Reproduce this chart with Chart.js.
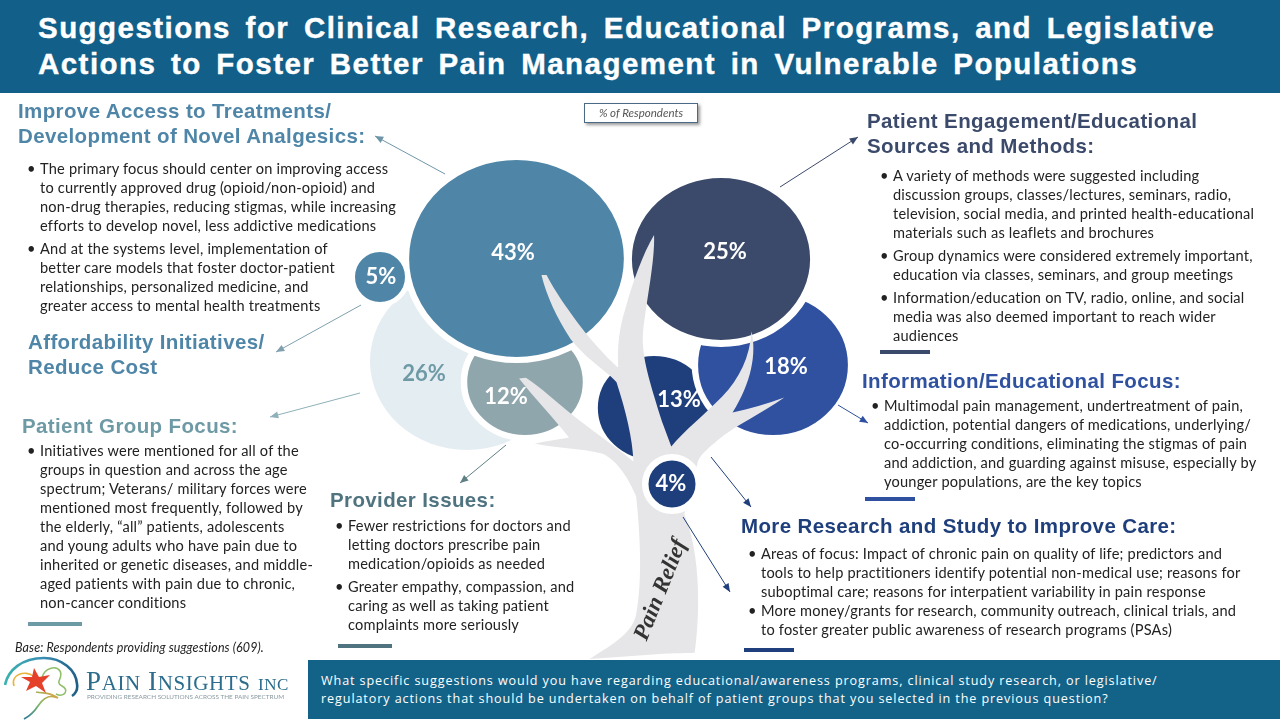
<!DOCTYPE html>
<html>
<head>
<meta charset="utf-8">
<title>Pain Management Suggestions</title>
<script src="https://cdn.jsdelivr.net/npm/chart.js@4"></script>
<style>
  html, body { margin: 0; padding: 0; background: #fff; }
  #page { position: relative; width: 1280px; height: 720px; overflow: hidden; font-family: Lato, sans-serif; color: #222; }
  #page > canvas { position: absolute; left: 0; top: 0; }
  #arrows { position: absolute; left: 0; top: 0; pointer-events: none; }
  .title { position: absolute; left: 0; top: 0; width: 1280px; height: 93px; background: #125f8a; }
  .title div { position: absolute; left: 38px; color: #fff; font: bold 29.5px "Liberation Sans", sans-serif; white-space: nowrap; letter-spacing: 1.45px; word-spacing: 5px; -webkit-text-stroke: 0.4px #fff; }
  .head { position: absolute; font: bold 20.5px/25px "Liberation Sans", sans-serif; white-space: nowrap; letter-spacing: 0.38px; }
  .body { position: absolute; font-size: 14.6px; line-height: 19px; white-space: nowrap; letter-spacing: 0.2px; }
  .body p { margin: 0 0 4px 0; position: relative; }
  .body p::before { content: "\2022"; position: absolute; left: -13px; }
  .bar { position: absolute; height: 4px; }
  .note { position: absolute; left: 15px; top: 640px; font-size: 12.5px; letter-spacing: 0.1px; font-style: italic; }
  .tag { position: absolute; left: 584px; top: 103px; width: 112px; height: 18px; border: 1px solid #4a6a85; box-shadow: 2px 2px 3px #999; background: #fff; text-align: center; font-size: 11.5px; line-height: 18px; font-style: italic; color: #555; }
  .ask { position: absolute; left: 308px; top: 660px; width: 972px; height: 59px; background: #136389; }
  .ask div { position: absolute; left: 13px; top: 12px; color: #fff; font-family: "Open Sans", sans-serif; font-size: 12.6px; line-height: 18px; white-space: nowrap; letter-spacing: 0.9px; }
  .logo { position: absolute; left: 4px; top: 656px; width: 290px; height: 64px; }
</style>
</head>
<body>
<div id="page">
  <canvas id="tree" width="1280" height="720"></canvas>
  <svg id="arrows" width="1280" height="720"></svg>

  <div class="title">
    <div style="top:11px">Suggestions for Clinical Research, Educational Programs, and Legislative</div>
    <div style="top:47px">Actions to Foster Better Pain Management in Vulnerable Populations</div>
  </div>
  <div class="tag">% of Respondents</div>

  <div class="head" style="left:18px;top:98px;color:#4f86a8">Improve Access to Treatments/<br>Development of Novel Analgesics:</div>
  <div class="body" style="left:40px;top:159px">
    <p>The primary focus should center on improving access<br>to currently approved drug (opioid/non-opioid) and<br>non-drug therapies, reducing stigmas, while increasing<br>efforts to develop novel, less addictive medications</p>
    <p>And at the systems level, implementation of<br>better care models that foster doctor-patient<br>relationships, personalized medicine, and<br>greater access to mental health treatments</p>
  </div>

  <div class="head" style="left:28px;top:329px;color:#4f86a8">Affordability Initiatives/<br>Reduce Cost</div>

  <div class="head" style="left:22px;top:413px;color:#6e9aa6">Patient Group Focus:</div>
  <div class="body" style="left:40px;top:441px">
    <p>Initiatives were mentioned for all of the<br>groups in question and across the age<br>spectrum; Veterans/ military forces were<br>mentioned most frequently, followed by<br>the elderly, “all” patients, adolescents<br>and young adults who have pain due to<br>inherited or genetic diseases, and middle-<br>aged patients with pain due to chronic,<br>non-cancer conditions</p>
  </div>
  <div class="bar" style="left:28px;top:622px;width:54px;background:#6e9aa6"></div>

  <div class="head" style="left:330px;top:487px;color:#4f7480">Provider Issues:</div>
  <div class="body" style="left:348px;top:516px">
    <p>Fewer restrictions for doctors and<br>letting doctors prescribe pain<br>medication/opioids as needed</p>
    <p>Greater empathy, compassion, and<br>caring as well as taking patient<br>complaints more seriously</p>
  </div>
  <div class="bar" style="left:338px;top:644px;width:54px;background:#4f7480"></div>

  <div class="head" style="left:867px;top:108px;color:#3b4a6b">Patient Engagement/Educational<br>Sources and Methods:</div>
  <div class="body" style="left:893px;top:166px">
    <p>A variety of methods were suggested including<br>discussion groups, classes/lectures, seminars, radio,<br>television, social media, and printed health-educational<br>materials such as leaflets and brochures</p>
    <p>Group dynamics were considered extremely important,<br>education via classes, seminars, and group meetings</p>
    <p>Information/education on TV, radio, online, and social<br>media was also deemed important to reach wider<br>audiences</p>
  </div>
  <div class="bar" style="left:880px;top:350px;width:50px;background:#3b4a6b"></div>

  <div class="head" style="left:862px;top:368px;color:#2f51a0">Information/Educational Focus:</div>
  <div class="body" style="left:884px;top:396px">
    <p>Multimodal pain management, undertreatment of pain,<br>addiction, potential dangers of medications, underlying/<br>co-occurring conditions, eliminating the stigmas of pain<br>and addiction, and guarding against misuse, especially by<br>younger populations, are the key topics</p>
  </div>
  <div class="bar" style="left:865px;top:497px;width:50px;background:#2f51a0"></div>

  <div class="head" style="left:741px;top:513px;color:#1f3f7c">More Research and Study to Improve Care:</div>
  <div class="body" style="left:761px;top:544px">
    <p style="margin:0">Areas of focus: Impact of chronic pain on quality of life; predictors and<br>tools to help practitioners identify potential non-medical use; reasons for<br>suboptimal care; reasons for interpatient variability in pain response</p>
    <p>More money/grants for research, community outreach, clinical trials, and<br>to foster greater public awareness of research programs (PSAs)</p>
  </div>
  <div class="bar" style="left:744px;top:648px;width:50px;background:#1f3f7c"></div>

  <div class="note">Base: Respondents providing suggestions (609).</div>

  <svg class="logo" viewBox="0 0 290 64">
    <defs>
      <linearGradient id="brainArc" x1="0" x2="1" y1="0" y2="0">
        <stop offset="0" stop-color="#3ab3ae"/><stop offset="0.5" stop-color="#3a8fb5"/><stop offset="1" stop-color="#1f5f85"/>
      </linearGradient>
      <linearGradient id="brainStem" x1="1" x2="0" y1="0" y2="1">
        <stop offset="0" stop-color="#e8a03c"/><stop offset="0.5" stop-color="#7fb86a"/><stop offset="1" stop-color="#2d7a9c"/>
      </linearGradient>
    </defs>
    <path d="M1 29 C4 14 18 2 40 2 C58 2 72 14 73 28 C74 34 71 38 68 40" fill="none" stroke="url(#brainArc)" stroke-width="2.6"/>
    <path d="M10 30 C6 18 22 14 29 20" fill="none" stroke="#e8b23c" stroke-width="1.6"/>
    <path d="M38 22 C40 12 52 9 56 15 C60 22 50 26 58 30 C66 34 60 42 52 38" fill="none" stroke="#8fbf6a" stroke-width="1.6"/>
    <path d="M32 36 C40 38 44 35 54 42 C44 37 38 44 34 50 C30 56 26 60 20 63" fill="none" stroke="url(#brainStem)" stroke-width="1.8"/>
    <path d="M30 12 L35 21 L46 19 L38 27 L42 37 L32 30 L22 35 L26 26 L17 21 L28 21 Z" fill="#e5402a"/>
    <text x="82" y="34" font-family="'Liberation Serif', serif" font-size="27" fill="#2c6c8c" letter-spacing="0.6">P<tspan font-size="21">AIN</tspan> I<tspan font-size="21">NSIGHTS</tspan> <tspan font-size="17">INC</tspan></text>
    <text x="83" y="43" font-family="Lato, sans-serif" font-size="6.4" fill="#8a9aa0">PROVIDING RESEARCH SOLUTIONS ACROSS THE PAIN SPECTRUM</text>
  </svg>

  <div class="ask"><div>What specific suggestions would you have regarding educational/awareness programs, clinical study research, or legislative/<br>regulatory actions that should be undertaken on behalf of patient groups that you selected in the previous question?</div></div>
</div>

<script>
// --- Data ---
const categories = [
  'Patient Group Focus',
  'Provider Issues',
  'Improve Access to Treatments/Development of Novel Analgesics',
  'Affordability Initiatives/Reduce Cost',
  'Information/Educational Focus',
  'Information/Educational Focus',
  'Patient Engagement/Educational Sources and Methods',
  'More Research and Study to Improve Care'
];
const shares = [26, 12, 43, 5, 13, 18, 25, 4];

// --- Where the bubbles sit on the tree ---
const bubbleX = [467, 525, 516.5, 380, 654, 773, 721, 672];
const bubbleY = [361, 382, 258.5, 277, 408, 365, 259, 484];
const bubbleR = [89, 56, 101.5, 27.5, 55, 73, 84.5, 26.75];
const bubbleStretch = [1.09, 1.09, 1.09, 1, 1.08, 1.07, 1.1, 1];
const bubbleRing = [0, 6, 6, 5, 6, 6, 7, 6.5];
const bubbleColors = ['#e4edf2', '#90a6ad', '#4f86a8', '#4f86a8', '#1f3f7c', '#2f51a0', '#3b4a6b', '#1f3f7c'];
const labelX = [424, 506, 513, 381, 679, 786, 725, 671];
const labelY = [374, 397, 253, 277, 400, 367, 252, 484];
const labelColors = ['#6e9aa6', '#fff', '#fff', '#fff', '#fff', '#fff', '#fff', '#fff'];

const treeOutline = new Path2D(
  'M725 1565 C800 1520 850 1490 860 1440 C880 1340 870 1200 860 1110 C830 1040 790 1000 760 990 ' +
  'C700 975 620 975 565 962 C600 955 640 950 665 945 C620 890 560 830 520 780 L540 778 ' +
  'C590 810 620 840 660 870 C730 925 800 970 852 1012 C850 950 830 870 803 790 ' +
  'C770 755 720 730 670 670 C630 610 600 550 585 490 L600 490 C620 530 670 600 720 660 ' +
  'C750 695 785 730 808 750 C805 690 810 640 830 580 C850 510 880 430 912 378 ' +
  'C915 450 890 560 880 650 C875 720 900 790 935 900 L962 970 ' +
  'C1000 925 1060 880 1110 830 C1160 780 1190 720 1195 648 C1210 710 1195 790 1140 875 ' +
  'C1190 865 1240 850 1290 833 C1230 875 1150 910 1100 950 C1070 975 1050 990 1040 1010 ' +
  'L1000 1160 C1030 1230 1040 1320 1040 1400 C1040 1460 1035 1510 1030 1548 C1000 1550 980 1548 950 1550 Z'
);

const drawTree = {
  id: 'drawTree',
  // each bubble is squeezed a little like the original artwork
  beforeDatasetDraw(chart, args) {
    const ctx = chart.ctx;
    const p = args.meta.data[0];
    if (args.index === shares.length - 1) {
      ctx.save();
      ctx.translate(340, 100);
      ctx.scale(1 / 2.904, 1 / 2.8);
      ctx.fillStyle = '#e6e6e8';
      ctx.fill(treeOutline);
      ctx.restore();
    }
    ctx.save();
    ctx.translate(p.x, p.y);
    ctx.scale(bubbleStretch[args.index], 1);
    ctx.translate(-p.x, -p.y);
  },
  afterDatasetDraw(chart) {
    chart.ctx.restore();
  },
  afterDatasetsDraw(chart) {
    const ctx = chart.ctx;
    ctx.save();
    ctx.textAlign = 'center';
    ctx.textBaseline = 'middle';
    ctx.font = 'bold 22px Lato';
    shares.forEach((s, i) => {
      ctx.fillStyle = labelColors[i];
      ctx.fillText(s + '%', chart.scales.x.getPixelForValue(labelX[i]), chart.scales.y.getPixelForValue(labelY[i]));
    });
    ctx.translate(chart.scales.x.getPixelForValue(661), chart.scales.y.getPixelForValue(590));
    ctx.rotate(-68 * Math.PI / 180);
    ctx.font = 'italic bold 23px "Liberation Serif"';
    ctx.fillStyle = '#333';
    ctx.fillText('Pain Relief', 0, 0);
    ctx.restore();
  }
};

new Chart(document.getElementById('tree').getContext('2d'), {
  type: 'bubble',
  data: {
    datasets: shares.map((s, i) => ({
      label: categories[i],
      data: [{ x: bubbleX[i], y: bubbleY[i], r: bubbleR[i] }],
      backgroundColor: bubbleColors[i],
      borderColor: '#fff',
      borderWidth: bubbleRing[i],
      hoverBorderWidth: bubbleRing[i],
      clip: false,
      order: shares.length - i
    }))
  },
  options: {
    responsive: false,
    animation: false,
    events: [],
    layout: { padding: 0, autoPadding: false },
    plugins: { legend: { display: false }, title: { display: false }, tooltip: { enabled: false } },
    scales: {
      x: { display: false, min: 0, max: 1280 },
      y: { display: false, min: 0, max: 720, reverse: true }
    }
  },
  plugins: [drawTree]
});

// --- Arrows ---
const arrowLines = [
  [445, 174, 375, 136, '#6f95a8'],
  [780, 187, 858, 137, '#3b4a6b'],
  [361, 305, 276, 352, '#7fa0ae'],
  [360, 393, 270, 417, '#8fb0ba'],
  [506, 445, 460, 483, '#5f7f85'],
  [711, 457, 751, 507, '#1f3f7c'],
  [683, 517, 730, 592, '#1f3f7c'],
  [838, 405, 868, 423, '#2f51a0']
];
const svg = document.getElementById('arrows');
arrowLines.forEach(([x1, y1, x2, y2, color]) => {
  const a = Math.atan2(y2 - y1, x2 - x1);
  const head = [[x2, y2], [x2 - 9 * Math.cos(a - 0.4), y2 - 9 * Math.sin(a - 0.4)], [x2 - 9 * Math.cos(a + 0.4), y2 - 9 * Math.sin(a + 0.4)]];
  svg.innerHTML += `<line x1="${x1}" y1="${y1}" x2="${x2}" y2="${y2}" stroke="${color}" stroke-width="1"/>` +
    `<polygon points="${head.map(p => p.join(',')).join(' ')}" fill="${color}"/>`;
});
</script>
</body>
</html>
